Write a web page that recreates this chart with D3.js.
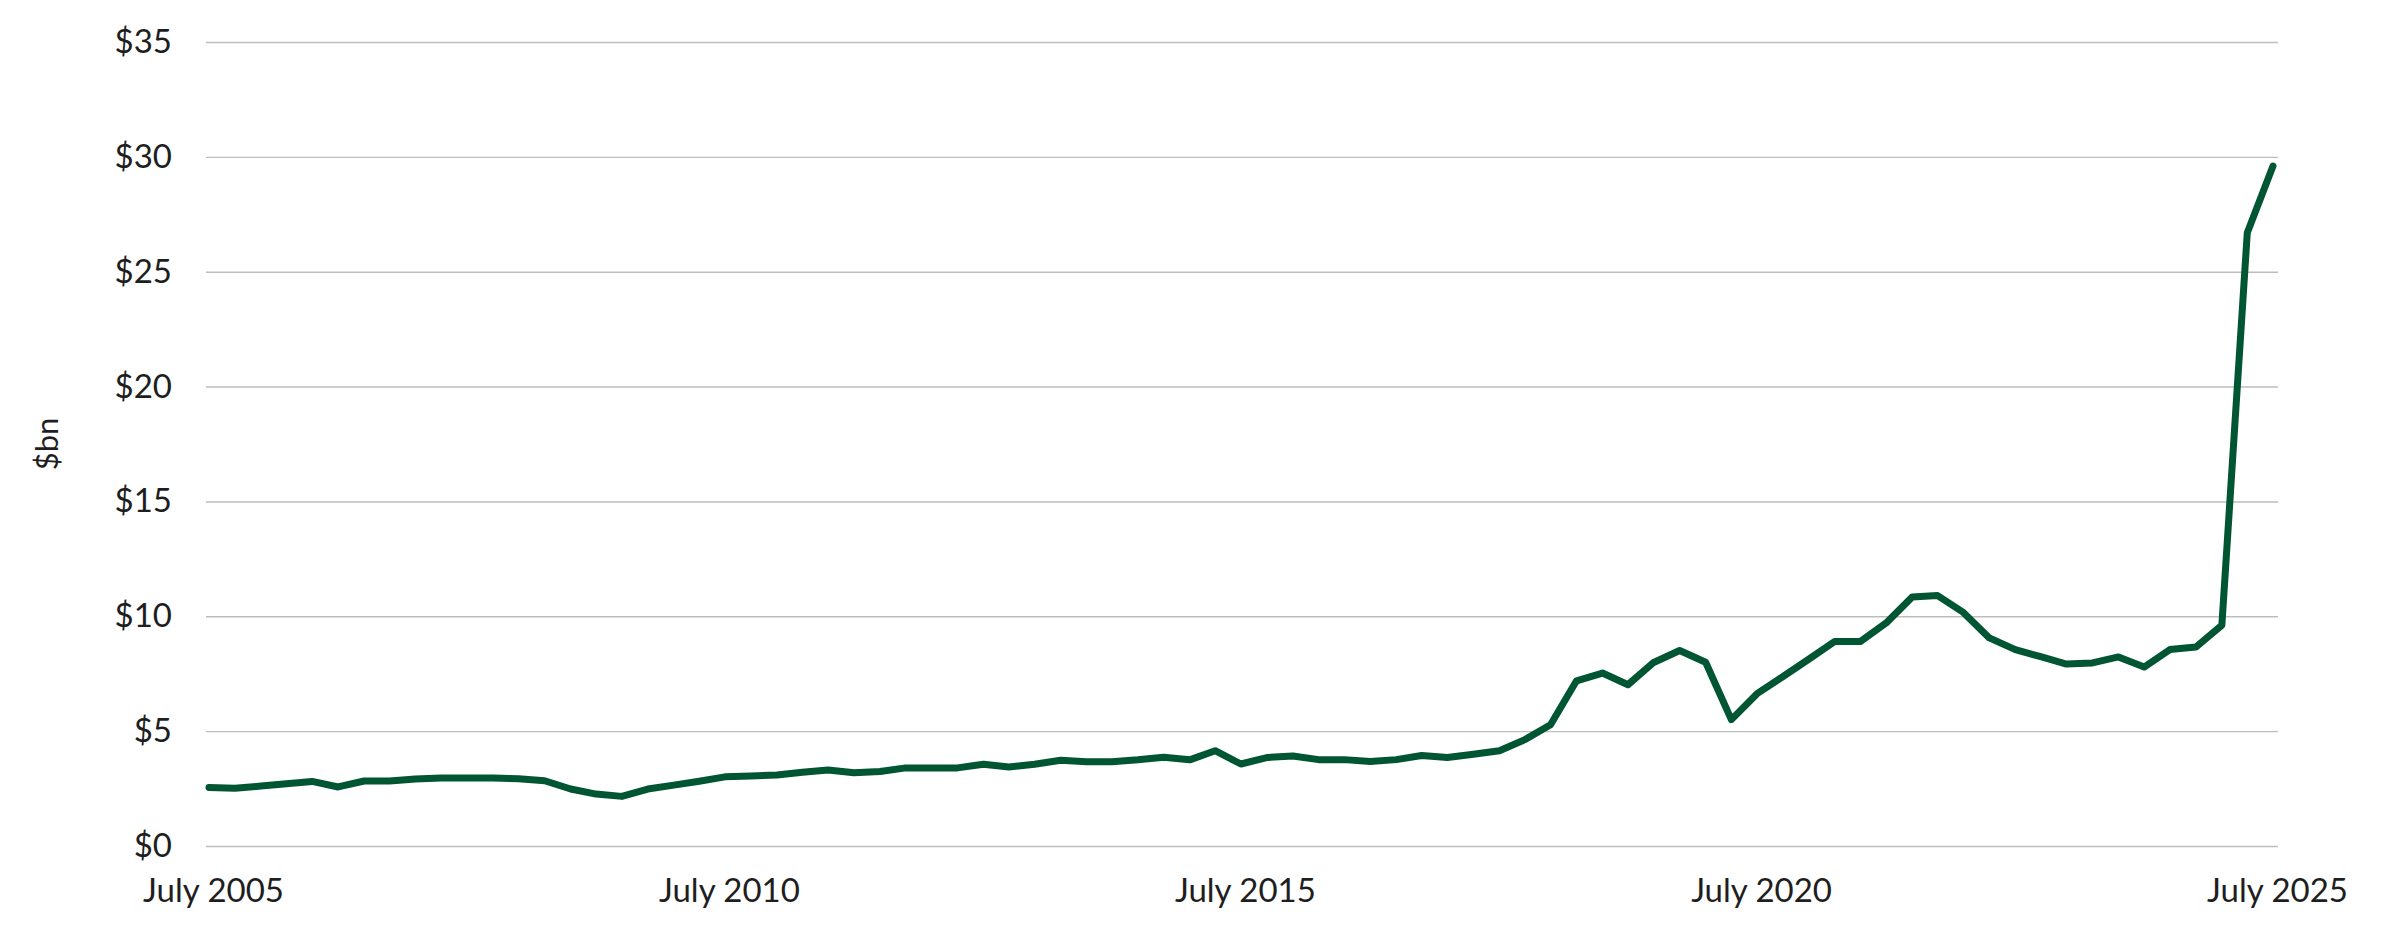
<!DOCTYPE html>
<html>
<head>
<meta charset="utf-8">
<script src="https://cdn.jsdelivr.net/npm/d3@7"></script>
<style>
  body { margin: 0; background: #fff; }
  text { font-family: Lato, "Noto Sans", sans-serif; }
</style>
</head>
<body>
<div id="the_chart"></div>
<script>
// quarterly values, $bn, July 2005 .. July 2025
var values = [
    2.55, 2.51, 2.61, 2.71, 2.81, 2.57, 2.83, 2.83, 2.92, 2.96,
    2.96, 2.96, 2.93, 2.84, 2.48, 2.26, 2.16, 2.48, 2.65, 2.82,
    3.01, 3.05, 3.09, 3.21, 3.31, 3.19, 3.24, 3.40, 3.40, 3.40,
    3.56, 3.44, 3.56, 3.73, 3.67, 3.67, 3.75, 3.86, 3.75, 4.15,
    3.57, 3.85, 3.92, 3.76, 3.76, 3.68, 3.76, 3.94, 3.85, 3.99,
    4.15, 4.63, 5.28, 7.19, 7.53, 7.02, 7.99, 8.51, 8.00, 5.50,
    6.63, 7.38, 8.14, 8.90, 8.90, 9.71, 10.84, 10.90, 10.17, 9.06,
    8.55, 8.24, 7.92, 7.97, 8.23, 7.79, 8.55, 8.66, 9.61, 26.7,
    29.6
];

// one category per quarter
var quarters = d3.utcMonths(new Date(Date.UTC(2005, 6, 1)), new Date(Date.UTC(2025, 7, 1)), 3);

var xTickValues = ["2005-07-01", "2010-07-01", "2015-07-01", "2020-07-01", "2025-07-01"];
var xTickLabels = ["July 2005", "July 2010", "July 2015", "July 2020", "July 2025"];
var yTickValues = [0, 5, 10, 15, 20, 25, 30, 35];
var yLabel = "$bn";

var w = 2387;
var h = 928;
var gridLeft = 206, gridRight = 2278;
var yTop = 42, yBottom = 846;

var svg = d3.select("#the_chart")
    .append("svg")
    .attr("width", w)
    .attr("height", h);

var x = d3.scaleUtc()
    .domain([quarters[0], quarters[quarters.length - 1]])
    .range([209, 2273]);

var y = d3.scaleLinear()
    .domain([0, 35])
    .range([yBottom, yTop]);

// y axis with gridlines
var yAxis = svg.append("g")
    .attr("transform", "translate(" + gridLeft + ",0)")
    .call(d3.axisLeft(y)
        .tickValues(yTickValues)
        .tickSize(-(gridRight - gridLeft))
        .tickPadding(34)
        .tickFormat(function (d) { return "$" + d; }));
yAxis.select(".domain").remove();
yAxis.selectAll(".tick line")
    .attr("stroke", "#bdbdbd")
    .attr("stroke-width", 1.4);
yAxis.selectAll(".tick text")
    .attr("fill", "#1e1e1e")
    .style("font-size", "33px")
    .style("font-family", "Lato, 'Noto Sans', sans-serif");

// x axis labels
var xAxis = svg.append("g")
    .attr("transform", "translate(0," + yBottom + ")")
    .call(d3.axisBottom(x)
        .tickValues(xTickValues.map(function (d) { return new Date(d + "T00:00:00Z"); }))
        .tickSize(0)
        .tickFormat(function (d, i) { return xTickLabels[i]; }));
xAxis.select(".domain").remove();
xAxis.selectAll(".tick text")
    .attr("y", 44)
    .attr("dy", "0.36em")
    .attr("dx", 4)
    .attr("fill", "#1e1e1e")
    .style("font-size", "33px")
    .style("font-family", "Lato, 'Noto Sans', sans-serif");

// y axis title
svg.append("text")
    .attr("transform", "translate(47," + ((yTop + yBottom) / 2) + ") rotate(-90)")
    .attr("text-anchor", "middle")
    .attr("dy", "0.36em")
    .attr("fill", "#1e1e1e")
    .style("font-size", "31px")
    .text(yLabel);

// the line
var line = d3.line()
    .x(function (d, i) { return x(quarters[i]); })
    .y(function (d) { return y(d); });

svg.append("path")
    .datum(values)
    .attr("d", line)
    .attr("fill", "none")
    .attr("stroke", "#005533")
    .attr("stroke-width", 7)
    .attr("stroke-linejoin", "round")
    .attr("stroke-linecap", "round");
</script>
</body>
</html>
